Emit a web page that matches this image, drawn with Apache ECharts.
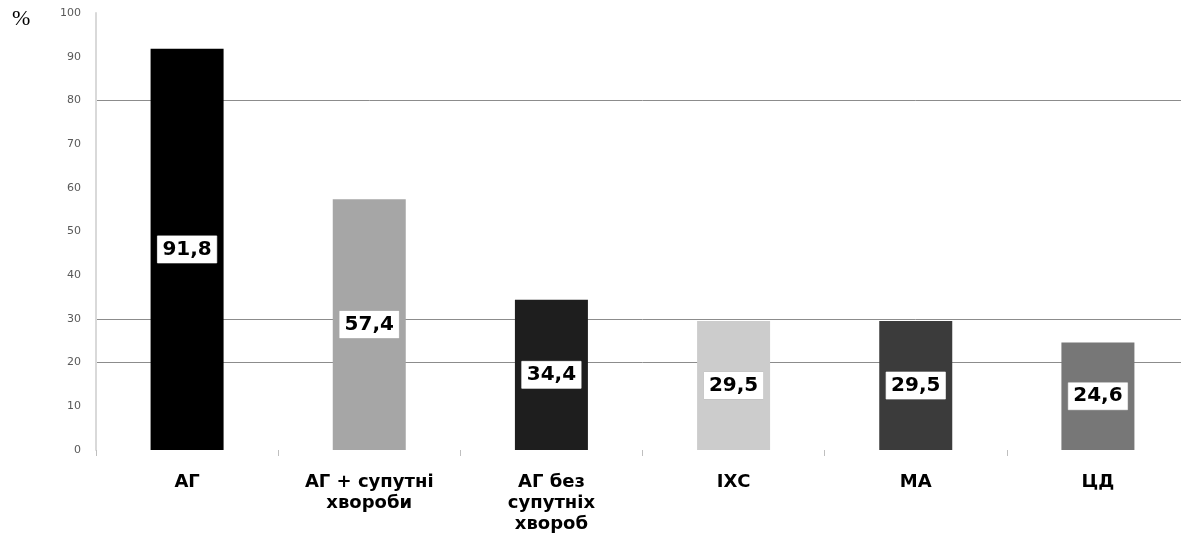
<!DOCTYPE html>
<html>
<head>
<meta charset="utf-8">
<script src="https://cdn.jsdelivr.net/npm/echarts@6/dist/echarts.min.js"></script>
<style>
html,body{margin:0;padding:0;background:#fff;overflow:hidden;width:1181px;height:537px;}
#chart{width:1200px;height:537px;}
</style>
</head>
<body>
<div id="chart"></div>
<script>
const categories = ['АГ', 'АГ + супутні\nхвороби', 'АГ без\nсупутніх\nхвороб', 'ІХС', 'МА', 'ЦД'];
const values = [91.8, 57.4, 34.4, 29.5, 29.5, 24.6];
const barColors = ['#000000', '#a6a6a6', '#1e1e1e', '#cccccc', '#3b3b3b', '#777777'];
const yTicks = [0, 10, 20, 30, 40, 50, 60, 70, 80, 90, 100];
const gridLineValues = [20, 30, 80];
const unitLabel = '%';

const splitColors = yTicks.map(v => gridLineValues.indexOf(v) >= 0 ? '#8c8c8c' : 'rgba(0,0,0,0)');

const chart = echarts.init(document.getElementById('chart'));
chart.setOption({
  animation: false,
  backgroundColor: '#ffffff',
  grid: { left: 96, top: 13, width: 1093, bottom: 87, containLabel: false },
  graphic: [{
    type: 'text', left: 12, top: 8,
    style: { text: unitLabel, font: '22px "Liberation Serif", "DejaVu Serif", serif', fill: '#000' }
  }],
  xAxis: {
    type: 'category',
    data: categories,
    axisLine: { show: false },
    axisTick: { show: true, length: 6, lineStyle: { color: '#bfbfbf', width: 1 } },
    axisLabel: {
      margin: 22, interval: 0,
      fontFamily: 'DejaVu Sans', fontWeight: 'bold', fontSize: 18, lineHeight: 21, color: '#000'
    }
  },
  yAxis: {
    type: 'value', min: 0, max: 100, interval: 10,
    axisLine: { show: true, lineStyle: { color: '#d9d9d9', width: 2 } },
    axisTick: { show: false },
    axisLabel: { margin: 15, fontFamily: 'DejaVu Sans', fontSize: 11, color: '#595959' },
    splitLine: { show: true, lineStyle: { color: splitColors, width: 1 } }
  },
  series: [{
    type: 'bar',
    barWidth: 73,
    data: values.map((v, i) => ({ value: v, itemStyle: { color: barColors[i] } })),
    label: {
      show: true, position: 'inside',
      formatter: p => String(p.value).replace('.', ','),
      fontFamily: 'DejaVu Sans', fontWeight: 'bold', fontSize: 20, color: '#000',
      backgroundColor: '#ffffff', borderColor: '#bfbfbf', borderWidth: 0.5,
      padding: [4, 5, 3, 5]
    }
  }]
});
</script>
</body>
</html>
